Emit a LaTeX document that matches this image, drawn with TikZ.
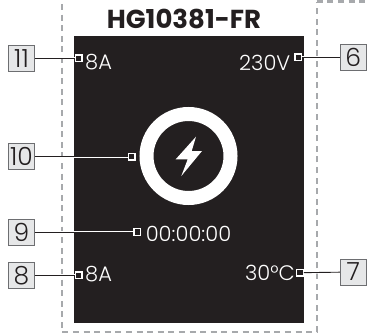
\documentclass[tikz,border=0pt]{standalone}
\usepackage{fontspec}
\setmainfont{Poppins}
\newfontfamily\lightfont{Poppins Light}
\usetikzlibrary{positioning,calc}
\definecolor{mPanel}{HTML}{231F20}
\definecolor{mGuide}{HTML}{A7A9AC}
\definecolor{mLabel}{HTML}{E6E7E8}
\definecolor{mEdge}{HTML}{6D6E71}
\tikzset{
  calloutbox/.style={draw=mEdge, line width=0.9pt, fill=mLabel, minimum width=26pt, minimum height=26pt, inner sep=0pt, font=\lightfont\fontsize{25}{25}\selectfont, text=mPanel},
  pin/.style={draw=white, line width=1.3pt, fill=mPanel, minimum size=6.5pt, inner sep=0pt},
  readout/.style={text=white, inner sep=0pt, font=\lightfont\fontsize{21}{21}\selectfont},
  lead/.style={draw=white, double=mPanel, line width=0.6pt, double distance=0.9pt},
  guide/.style={mGuide, line width=2.4pt, dash pattern=on 6pt off 4.6pt}}
\begin{document}
\begin{tikzpicture}[x=1pt,y=-1pt]
\useasboundingbox (0,0) rectangle (369,334);
\fill[mPanel] (74,36) rectangle (304,322.7);
\draw[guide] (61.7,4) -- (61.7,332) -- (316.7,332) -- (316.7,2);
\draw[guide] (316.7,1.7) -- (369,1.7);
\node[font=\bfseries\fontsize{26}{26}\selectfont, text=mPanel, inner sep=0pt] (title) at (184,19) {HG10381-FR};
% callouts
\node[calloutbox] (n11) at (21.5,58.3) {11};
\node[calloutbox] (n10) at (21.5,156.7) {10};
\node[calloutbox] (n9) at (21.5,232) {9};
\node[calloutbox] (n8) at (21.5,275.3) {8};
\node[calloutbox] (n6) at (353.3,57.3) {6};
\node[calloutbox] (n7) at (353.3,272) {7};
% readouts
\node[readout, anchor=west] (t11) at (85,62) {8A};
\node[readout, anchor=east] (t6) at (290.5,62.5) {230V};
\node[readout] (t9) at (188.5,234) {00:00:00};
\node[readout, anchor=west] (t8) at (85,274) {8A};
\node[readout, anchor=east] (t7) at (295,273) {30°C};
\node[pin] (p11) at (78.7,58.3) {};
\node[pin] (p10) at (131.7,156.7) {};
\node[pin] (p9) at (137.3,232) {};
\node[pin] (p8) at (78.7,275.3) {};
\node[pin] (p6) at (298.3,57.3) {};
\node[pin] (p7) at (300,272.7) {};
\draw[lead] (n11) -- (p11);
\draw[lead] (n10) -- (p10);
\draw[lead] (n9) -- (p9);
\draw[lead] (n8) -- (p8);
\draw[lead] (n6) -- (p6);
\draw[lead] (n7) -- (p7);
% ring and bolt
\draw[white, line width=14pt] (188.5,156) circle (42pt);
\fill[white] (196,136.7) -- (175.7,159.3) -- (187.7,159.3) -- (181.3,176) -- (202,151) -- (191.7,151) -- cycle;
\end{tikzpicture}
\end{document}
